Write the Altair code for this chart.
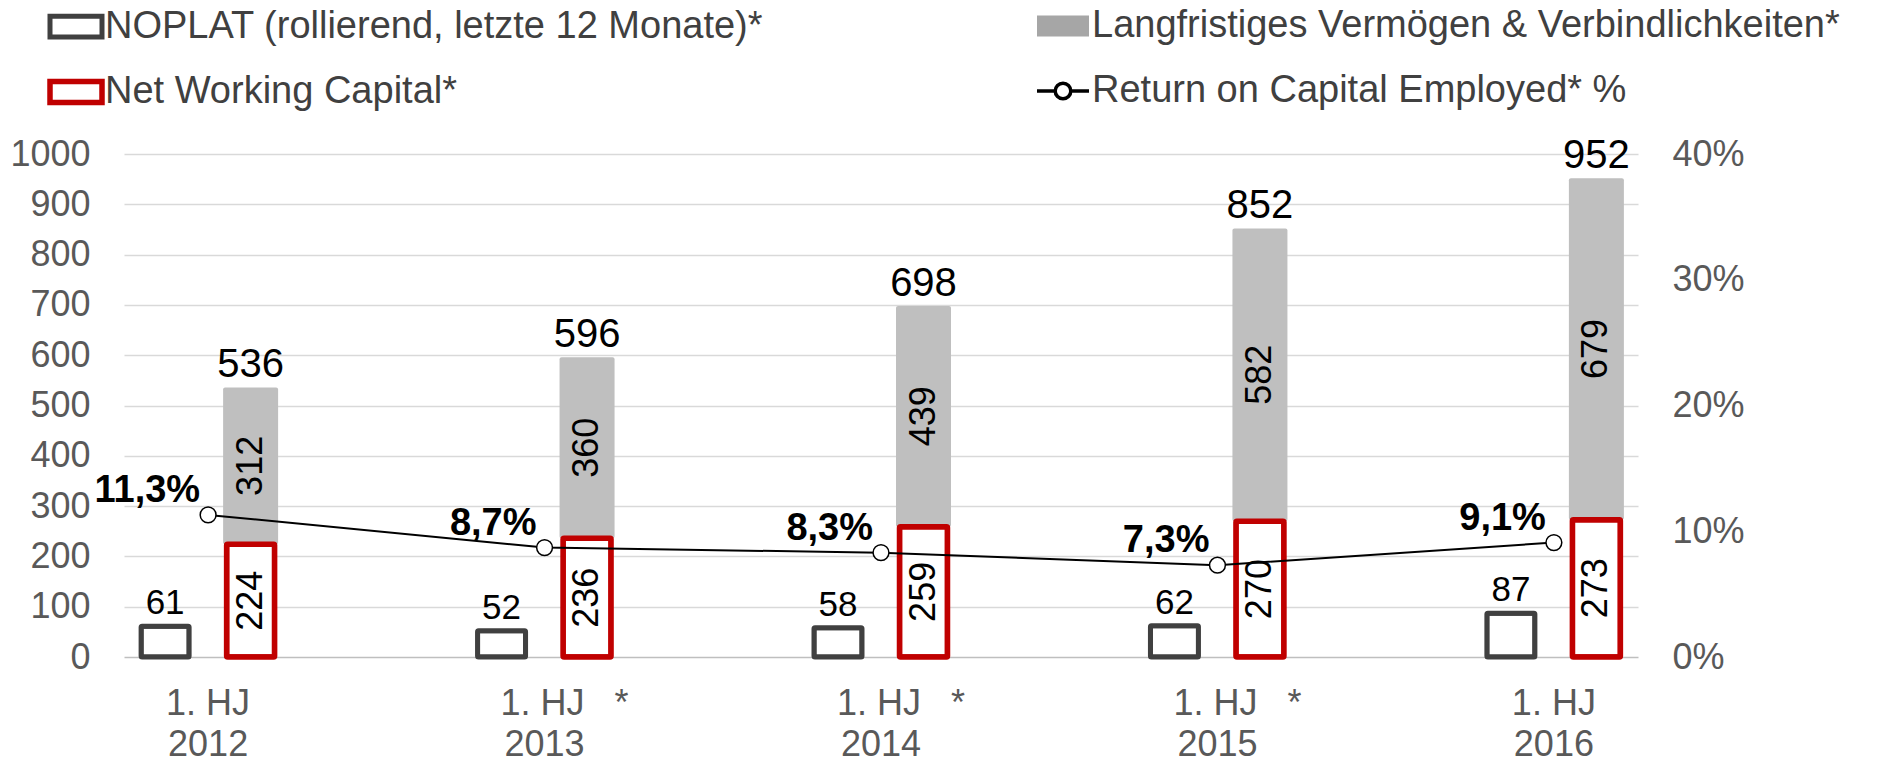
import altair as alt
import pandas as pd

# ---------------- data ----------------
years = ["2012", "2013", "2014", "2015", "2016"]
period = "1. HJ"
restated = [False, True, True, True, False]          # categories with "*"
noplat = [61, 52, 58, 62, 87]                          # NOPLAT (rollierend, letzte 12 Monate)*
nwc = [224, 236, 259, 270, 273]                        # Net Working Capital*
langfr = [312, 360, 439, 582, 679]                     # Langfristiges Vermögen & Verbindlichkeiten*
totals = [536, 596, 698, 852, 952]                     # sum labels
roce = [11.3, 8.7, 8.3, 7.3, 9.1]                      # Return on Capital Employed* %

# legend entries (legend fills column by column: col 1 = first two)
legend_names = [
    "NOPLAT (rollierend, letzte 12 Monate)*",
    "Net Working Capital*",
    "Langfristiges Vermögen & Verbindlichkeiten*",
    "Return on Capital Employed* %",
]

NBSP = "\u00a0"
ZWSP = "\u200b"
cat_labels = [
    (ZWSP + NBSP * 4 + period + NBSP * 3 + "*" if s else period) + "|" + y
    for y, s in zip(years, restated)
]

df = pd.DataFrame({
    "cat": cat_labels,
    "noplat": noplat,
    "nwc": nwc,
    "lang": langfr,
    "total": totals,
    "roce": roce,
    "roce_label": [f"{v:.1f}".replace(".", ",") + "%" for v in roce],
})
legend_df = pd.DataFrame({"series": legend_names})

# ---------------- styles ----------------
FONT = "Liberation Sans"
AXIS_GRAY = "#595959"
DARK = "#404040"
RED = "#C00000"
GRAY = "#BFBFBF"
LEG_GRAY = "#A6A6A6"
OFF_L = -43
OFF_R = 42.5

xscale = alt.Scale(paddingInner=0.5, paddingOuter=0)
x_axis = alt.Axis(
    title=None, labelExpr="split(datum.label, '|')", labelFontSize=36,
    labelColor=AXIS_GRAY, labelFont=FONT, labelLineHeight=41, labelPadding=29,
    domain=False, ticks=False, tickSize=0, labelAngle=0, labelBaseline="top",
    labelOverlap=False, labelLimit=0,
)
X = alt.X("cat:N", sort=cat_labels, scale=xscale, axis=x_axis)

yscale = alt.Scale(domain=[0, 1000], nice=False)
y_axis = alt.Axis(
    title=None, values=list(range(0, 1001, 100)), format="d", labelFontSize=36,
    labelColor=AXIS_GRAY, labelFont=FONT, labelPadding=34, domain=False,
    ticks=False, tickSize=0,
    gridColor={"condition": {"test": "datum.value === 0", "value": "#BFBFBF"}, "value": "#D9D9D9"},
    gridWidth=1.5,
)

def Y(field):
    return alt.Y(field, scale=yscale, axis=y_axis)

base = alt.Chart(df)

gray_bar = base.transform_calculate(top="datum.nwc + datum.lang").mark_bar(
    width=55, xOffset=OFF_R, color=GRAY, cornerRadius=2
).encode(x=X, y=Y("top:Q"), y2="nwc:Q")

noplat_bar = base.mark_bar(
    width=48, xOffset=OFF_L, fill="white", stroke=DARK, strokeWidth=5, cornerRadius=1
).encode(x=X, y=Y("noplat:Q"))

nwc_bar = base.mark_bar(
    width=48, xOffset=OFF_R, fill="white", stroke=RED, strokeWidth=5.5, cornerRadius=1
).encode(x=X, y=Y("nwc:Q"))

noplat_txt = base.mark_text(
    xOffset=OFF_L, dy=-12, fontSize=35, baseline="alphabetic", color="black", font=FONT
).encode(x=X, y=Y("noplat:Q"), text="noplat:Q")

nwc_txt = base.transform_calculate(mid="datum.nwc / 2").mark_text(
    xOffset=OFF_R, angle=270, fontSize=36, align="center", baseline="middle",
    color="black", font=FONT
).encode(x=X, y=Y("mid:Q"), text="nwc:Q")

lang_txt = base.transform_calculate(mid="datum.nwc + datum.lang / 2").mark_text(
    xOffset=OFF_R, angle=270, fontSize=36, align="center", baseline="middle",
    color="black", font=FONT
).encode(x=X, y=Y("mid:Q"), text="lang:Q")

total_txt = base.mark_text(
    xOffset=OFF_R, dy=-10, fontSize=40, baseline="alphabetic", color="black", font=FONT
).encode(x=X, y=Y("total:Q"), text="total:Q")

# legend: one merged legend from fill / stroke / shape / strokeWidth scales
rect_path = "M-1,-0.4H1V0.4H-1Z"
roce_path = "M-1,0H-0.3M0.3,0H1M0.3,0A0.3,0.3,0,1,1,-0.3,0A0.3,0.3,0,1,1,0.3,0Z"
leg_fills = ["#FFFFFF", "#FFFFFF", LEG_GRAY, "#FFFFFF"]
leg_strokes = [DARK, RED, LEG_GRAY, "#000000"]
leg_widths = [5, 5.5, 0, 3.5]
leg_shapes = [rect_path, rect_path, rect_path, roce_path]

legend = alt.Legend(
    title=None, orient="none", legendX=-77, legendY=-156, columns=2,
    columnPadding=266, rowPadding=16, labelFontSize=38, labelFont=FONT,
    labelColor=DARK, labelLimit=3000, labelOffset=0, symbolSize=2704,
    symbolOpacity=1, padding=0,
)

legend_layer = alt.Chart(legend_df).mark_point(filled=True, opacity=0).encode(
    fill=alt.Fill("series:N", sort=legend_names,
                  scale=alt.Scale(domain=legend_names, range=leg_fills), legend=legend),
    stroke=alt.Stroke("series:N", sort=legend_names,
                      scale=alt.Scale(domain=legend_names, range=leg_strokes), legend=legend),
    shape=alt.Shape("series:N", sort=legend_names,
                    scale=alt.Scale(domain=legend_names, range=leg_shapes), legend=legend),
    strokeWidth=alt.StrokeWidth("series:N", sort=legend_names,
                                scale=alt.Scale(type="ordinal", domain=legend_names,
                                                range=leg_widths),
                                legend=legend),
)

bars = alt.layer(gray_bar, noplat_bar, nwc_bar, noplat_txt, nwc_txt, lang_txt,
                 total_txt, legend_layer)

# ROCE on the right axis
rscale = alt.Scale(domain=[0, 40], nice=False)
r_axis = alt.Axis(
    title=None, orient="right", values=[0, 10, 20, 30, 40],
    labelExpr="datum.value + '%'", labelFontSize=36, labelColor=AXIS_GRAY,
    labelFont=FONT, labelPadding=34, domain=False, ticks=False, tickSize=0, grid=False,
)

def YR(field):
    return alt.Y(field, scale=rscale, axis=r_axis)

roce_line = base.mark_line(color="black", strokeWidth=2).encode(x=X, y=YR("roce:Q"))
roce_pts = base.mark_point(
    filled=True, fill="white", stroke="black", strokeWidth=1.5, size=250, opacity=1
).encode(x=X, y=YR("roce:Q"))
roce_txt = base.mark_text(
    align="right", dx=-8, dy=-13, fontSize=38, fontWeight="bold",
    baseline="alphabetic", color="black", font=FONT
).encode(x=X, y=YR("roce:Q"), text="roce_label:N")

roce_layer = alt.layer(roce_line, roce_pts, roce_txt)

chart = (
    alt.layer(bars, roce_layer)
    .resolve_scale(y="independent")
    .properties(
        width=1514, height=503,
        autosize=alt.AutoSizeParams(type="none"),
        padding={"left": 124, "top": 154, "right": 258, "bottom": 107},
        background="white",
    )
    .configure(font=FONT)
    .configure_view(stroke=None)
)

chart.save("out.html", embed_options={"renderer": "svg", "actions": False})
